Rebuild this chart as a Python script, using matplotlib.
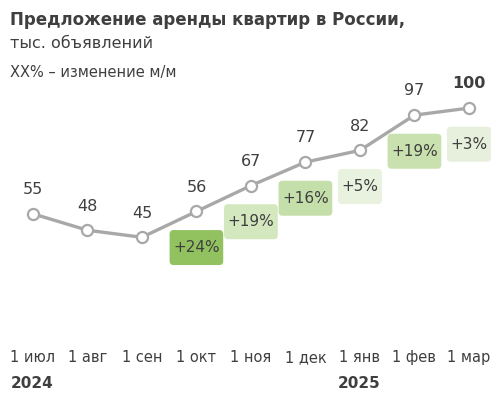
import matplotlib
matplotlib.use('Agg')
import matplotlib.pyplot as plt
from matplotlib.patches import BoxStyle

# Data
months = ['1 июл', '1 авг', '1 сен', '1 окт', '1 ноя', '1 дек', '1 янв', '1 фев', '1 мар']
offers = [55, 48, 45, 56, 67, 77, 82, 97, 100]
changes = ['', '', '', '+24%', '+19%', '+16%', '+5%', '+19%', '+3%']
box_colors = ['', '', '', '#92c260', '#d4e8c0', '#c5dfab', '#e8f2de', '#c8e1ae', '#e6f0dc']
years = {0: '2024', 6: '2025'}

txt = '#3f3f3f'
plt.rcParams['font.family'] = 'DejaVu Sans'


# box a bit wider than the text and of fixed height, like the reference tags
def tag_box(x0, y0, width, height, mutation_size):
    cx, cy = x0 + width / 2, y0 + height / 2
    w, h = width + 7, 35
    return BoxStyle.Round(pad=0, rounding_size=4)(cx - w / 2, cy - h / 2, w, h, 1)


fig = plt.figure(figsize=(5.04, 3.94), dpi=100)
ax = fig.add_axes([10 / 504, 94 / 394, 484 / 504, 210 / 394])

x = list(range(len(months)))
ax.plot(x, offers, color='#a8a8a8', lw=2.4, marker='o', ms=8,
        mfc='white', mec='#a8a8a8', mew=1.6, zorder=3)

# value labels above points
for i, v in enumerate(offers):
    ax.annotate(str(v), (i, v), xytext=(0, 12), textcoords='offset points',
                ha='center', va='bottom', fontsize=11.5, color=txt,
                fontweight='bold' if i == len(offers) - 1 else 'normal')

# m/m change boxes below points
for i, (v, c) in enumerate(zip(offers, changes)):
    if not c:
        continue
    ax.annotate(c, (i, v), xytext=(0, -26), textcoords='offset points',
                ha='center', va='center', fontsize=11, color=txt,
                bbox=dict(boxstyle=tag_box, fc=box_colors[i], ec='none'))

ax.set_xlim(-0.42, 8.46)
ax.set_ylim(18.3, 107.7)
ax.set_xticks(x)
ax.set_xticklabels(months, fontsize=10.5, color=txt)
ax.tick_params(axis='x', length=0, pad=36)
ax.set_yticks([])
for s in ax.spines.values():
    s.set_visible(False)

for i, y in years.items():
    ax.annotate(y, (i, 0), xycoords=('data', 'axes fraction'),
                xytext=(-16, -60), textcoords='offset points',
                ha='left', va='center', fontsize=11, fontweight='bold', color=txt)

fig.text(10 / 504, 1 - 20 / 394, 'Предложение аренды квартир в России,',
         fontsize=12, fontweight='bold', color=txt, va='center')
fig.text(10 / 504, 1 - 44 / 394, 'тыс. объявлений', fontsize=11.5, color=txt, va='center')
fig.text(10 / 504, 1 - 73 / 394, 'XX% – изменение м/м', fontsize=10.5, color=txt, va='center')

fig.savefig('out.png', dpi=100)
